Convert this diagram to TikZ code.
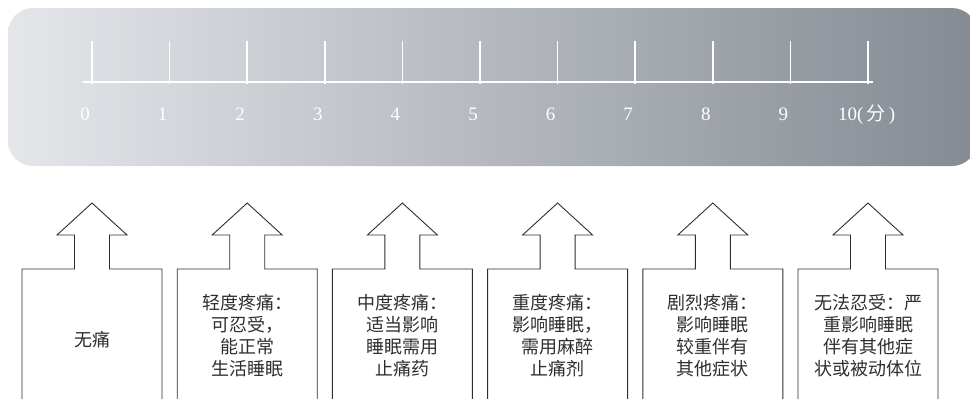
\documentclass[tikz,border=0pt]{standalone}
\usepackage{fontspec}
\setmainfont{Liberation Serif}
\newfontfamily\cjk{Noto Sans CJK SC}
\usepackage{xcolor}
\usepackage{tikz}
\usetikzlibrary{calc}
\usetikzlibrary{positioning}

\definecolor{bandleft}{HTML}{E4E6EA}
\definecolor{bandright}{HTML}{858B93}
\definecolor{inkgray}{HTML}{2E2E2E}

\tikzset{
	scalelbl/.style={text=white,anchor=base,inner sep=0pt,font=\fontsize{19}{19}\selectfont},
	painbox/.style={draw=inkgray,line width=0.9pt,line join=miter},
	paintxt/.style={text=inkgray,align=center,inner sep=0pt,font=\cjk\fontsize{18}{22}\selectfont}
}

\begin{document}
\begin{tikzpicture}[x=1pt,y=-1pt]
	\useasboundingbox (0,0) rectangle (970,399);
	% grey band with the scale
	\shade[left color=bandleft,right color=bandright,rounded corners=25pt] (8,8) rectangle (977,166);
	\draw[white,line width=2pt] (83,82) -- (873,82);
	\foreach \i in {0,...,10}
		\draw[white,line width=1.6pt] (92+77.6*\i,84) -- ++(0,-43);
	\foreach \i in {0,...,9}
		\node[scalelbl] (lbl\i) at (85+77.6*\i,120) {\i};
	\node[scalelbl,anchor=base west] (lbl10) at (838,120) {10(\,{\cjk 分}\,)};
	% boxes with arrows pointing up
	\foreach \k in {0,...,5}{
		\pgfmathsetmacro{\cx}{92+155.2*\k}
		\draw[painbox] (\cx-70,400) -- (\cx-70,269) -- (\cx-17.5,269) -- (\cx-17.5,235)
			-- (\cx-35,235) -- (\cx,203) -- (\cx+35,235) -- (\cx+17.5,235)
			-- (\cx+17.5,269) -- (\cx+70,269) -- (\cx+70,400);
	}
	\node[paintxt] (none) at (92,340) {无痛};
	\node[paintxt] (mild) at (247.2,336) {轻度疼痛：\\可忍受，\\能正常\\生活睡眠};
	\node[paintxt] (moderate) at (402.4,336) {中度疼痛：\\适当影响\\睡眠需用\\止痛药};
	\node[paintxt] (severe) at (557.6,336) {重度疼痛：\\影响睡眠，\\需用麻醉\\止痛剂};
	\node[paintxt] (intense) at (712.8,336) {剧烈疼痛：\\影响睡眠\\较重伴有\\其他症状};
	\node[paintxt] (unbearable) at (868,336) {无法忍受：严\\重影响睡眠\\伴有其他症\\状或被动体位};
\end{tikzpicture}
\end{document}
